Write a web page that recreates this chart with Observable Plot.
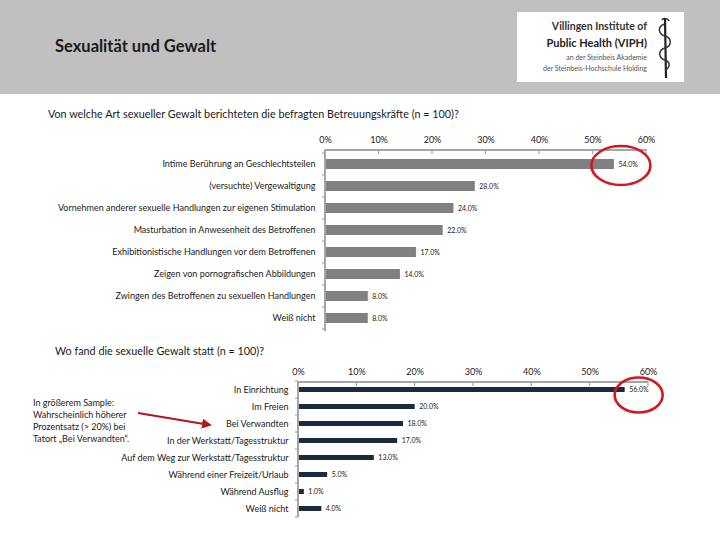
<!DOCTYPE html>
<html><head><meta charset="utf-8">
<script src="https://cdn.jsdelivr.net/npm/d3@7"></script>
<script src="https://cdn.jsdelivr.net/npm/@observablehq/plot@0.6"></script>
<style>
body{margin:0;background:#fff;font-family:Lato,"Open Sans",sans-serif;color:#1a1a1a;}
#page{position:relative;width:720px;height:540px;overflow:hidden;background:#fff;}
#header{position:absolute;left:0;top:0;width:720px;height:94px;background:#c0c0c0;}
#title{position:absolute;left:55px;top:36px;font-size:16.5px;font-weight:700;color:#1a1a1a;}
#logo{position:absolute;left:517px;top:12px;width:167px;height:70px;background:#fff;}
#logo .t{position:absolute;right:37px;white-space:nowrap;text-align:right;}
.q{position:absolute;font-size:10.8px;white-space:nowrap;color:#1a1a1a;}
#note{position:absolute;left:33px;top:397px;font-size:9px;line-height:12px;white-space:nowrap;}
#c1{position:absolute;left:0;top:128px;}
#c2{position:absolute;left:0;top:360px;}
#ov{position:absolute;left:0;top:0;pointer-events:none;}
</style></head>
<body><div id="page">
<div id="header">
  <div id="title">Sexualität und Gewalt</div>
  <div id="logo">
    <div class="t" style="top:8px;font-size:10.5px;font-weight:700;color:#333">Villingen Institute of</div>
    <div class="t" style="top:24px;font-size:11px;font-weight:700;color:#222">Public Health (VIPH)</div>
    <div class="t" style="top:41px;font-size:7px;color:#555">an der Steinbeis Akademie</div>
    <div class="t" style="top:52px;font-size:7px;color:#555">der Steinbeis-Hochschule Holding</div>
    <svg style="position:absolute;left:136px;top:4px" width="24" height="64">
      <line x1="12" y1="3" x2="13" y2="62" stroke="#222" stroke-width="2.2"/>
      <path d="M12,8 C4,10 5,18 12,20 C19,22 19,30 12,32 C5,34 5,42 12,44 C18,46 17,52 12,54" fill="none" stroke="#333" stroke-width="1.5"/>
      <path d="M9,4 C10,2 15,2 16,5" fill="none" stroke="#222" stroke-width="1.5"/>
    </svg>
  </div>
</div>
<div class="q" style="left:48px;top:107px">Von welche Art sexueller Gewalt berichteten die befragten Betreuungskräfte (n = 100)?</div>
<div class="q" style="left:55px;top:344px">Wo fand die sexuelle Gewalt statt (n = 100)?</div>
<div id="note">In größerem Sample:<br>Wahrscheinlich höherer<br>Prozentsatz (&gt; 20%) bei<br>Tatort „Bei Verwandten“.</div>
<div id="c1"></div>
<div id="c2"></div>
<svg id="ov" width="720" height="540">
  <defs><marker id="ah" viewBox="0 0 10 10" refX="8" refY="5" markerWidth="5" markerHeight="5" orient="auto"><path d="M0,0 L10,5 L0,10 z" fill="#b0181c"/></marker></defs>
  <line x1="138" y1="413" x2="210" y2="425" stroke="#b0181c" stroke-width="2" marker-end="url(#ah)"/>
</svg>
</div>
<script>
const cats1 = ["Intime Berührung an Geschlechtsteilen","(versuchte) Vergewaltigung","Vornehmen anderer sexuelle Handlungen zur eigenen Stimulation","Masturbation in Anwesenheit des Betroffenen","Exhibitionistische Handlungen vor dem Betroffenen","Zeigen von pornografischen Abbildungen","Zwingen des Betroffenen zu sexuellen Handlungen","Weiß nicht"];
const vals1 = [54,28,24,22,17,14,8,8];
const cats2 = ["In Einrichtung","Im Freien","Bei Verwandten","In der Werkstatt/Tagesstruktur","Auf dem Weg zur Werkstatt/Tagesstruktur","Während einer Freizeit/Urlaub","Während Ausflug","Weiß nicht"];
const vals2 = [56,20,18,17,13,5,1,4];
const xTicks = [0,10,20,30,40,50,60];
const xDomain = [0,60];

const data1 = cats1.map((c,i)=>({c, v: vals1[i]}));
const data2 = cats2.map((c,i)=>({c, v: vals2[i]}));
const fmt = d => d.toFixed(1) + "%";
const NS = "http://www.w3.org/2000/svg";

function axisFrame(cats, tickLen) {
  return (index, scales, values, dims) => {
    const g = document.createElementNS(NS, "g");
    const x = scales.x, y = scales.y;
    const top = dims.marginTop, bottom = dims.height - dims.marginBottom;
    const x0 = x(xDomain[0]), x1 = x(xDomain[1]);
    const add = (a,b,c,d,w) => {
      const l = document.createElementNS(NS, "line");
      l.setAttribute("x1",a); l.setAttribute("y1",b); l.setAttribute("x2",c); l.setAttribute("y2",d);
      l.setAttribute("stroke","#a6a6a6"); l.setAttribute("stroke-width",w);
      g.appendChild(l);
    };
    add(x0, top, x1, top, 2);
    add(x0, top, x0, bottom, 2);
    for (const t of xTicks) add(x(t), top - 1, x(t), top + tickLen, 1.2);
    const step = y(cats[1]) - y(cats[0]);
    const bw = y.bandwidth ? y.bandwidth() : 0;
    for (let i = 0; i <= cats.length; i++) {
      const yy = y(cats[0]) + bw/2 - step/2 + i*step;
      add(x0 - 3, yy, x0, yy, 1.2);
    }
    return g;
  };
}
function circleMark(cat, val, dx, dy, rx, ry) {
  return (index, scales) => {
    const e = document.createElementNS(NS, "ellipse");
    const bw = scales.y.bandwidth ? scales.y.bandwidth() : 0;
    e.setAttribute("cx", scales.x(val) + dx);
    e.setAttribute("cy", scales.y(cat) + bw/2 + dy);
    e.setAttribute("rx", rx); e.setAttribute("ry", ry);
    e.setAttribute("fill","none"); e.setAttribute("stroke","#d21820"); e.setAttribute("stroke-width",2.6);
    return e;
  };
}

const c1 = Plot.plot({
  width: 720, height: 206,
  marginLeft: 325, marginRight: 74, marginTop: 22, marginBottom: 3,
  style: {fontFamily: "Lato, 'Open Sans', sans-serif", color: "#1a1a1a", background: "transparent"},
  x: {domain: xDomain},
  y: {domain: cats1, paddingInner: 0.55, paddingOuter: 0.31},
  marks: [
    Plot.barX(data1, {x: "v", y: "c", fill: "#808080"}),
    Plot.text(data1, {x: "v", y: "c", text: d => fmt(d.v), dx: 4, textAnchor: "start", fontSize: 7, fill: "#1a1a1a"}),
    axisFrame(cats1, 4),
    Plot.axisX({anchor: "top", ticks: xTicks, tickFormat: d => d + "%", tickSize: 0, tickPadding: 8, fontSize: 9, label: null}),
    Plot.axisY({tickSize: 0, tickPadding: 10, fontSize: 9, label: null}),
    circleMark(cats1[0], vals1[0], 7, 1.5, 29.5, 19.5)
  ]
});
document.getElementById("c1").appendChild(c1);

const c2 = Plot.plot({
  width: 720, height: 162,
  marginLeft: 298, marginRight: 72, marginTop: 22, marginBottom: 5,
  style: {fontFamily: "Lato, 'Open Sans', sans-serif", color: "#1a1a1a", background: "transparent"},
  x: {domain: xDomain},
  y: {domain: cats2, paddingInner: 0.7, paddingOuter: 0.32},
  marks: [
    Plot.barX(data2, {x: "v", y: "c", fill: "#1b2a41"}),
    Plot.text(data2, {x: "v", y: "c", text: d => fmt(d.v), dx: 4, textAnchor: "start", fontSize: 7, fill: "#1a1a1a"}),
    axisFrame(cats2, 4),
    Plot.axisX({anchor: "top", ticks: xTicks, tickFormat: d => d + "%", tickSize: 0, tickPadding: 8, fontSize: 9, label: null}),
    Plot.axisY({tickSize: 0, tickPadding: 10, fontSize: 9, label: null}),
    circleMark(cats2[0], vals2[0], 14, 5.5, 24, 17.5)
  ]
});
document.getElementById("c2").appendChild(c2);
</script>
</body></html>
